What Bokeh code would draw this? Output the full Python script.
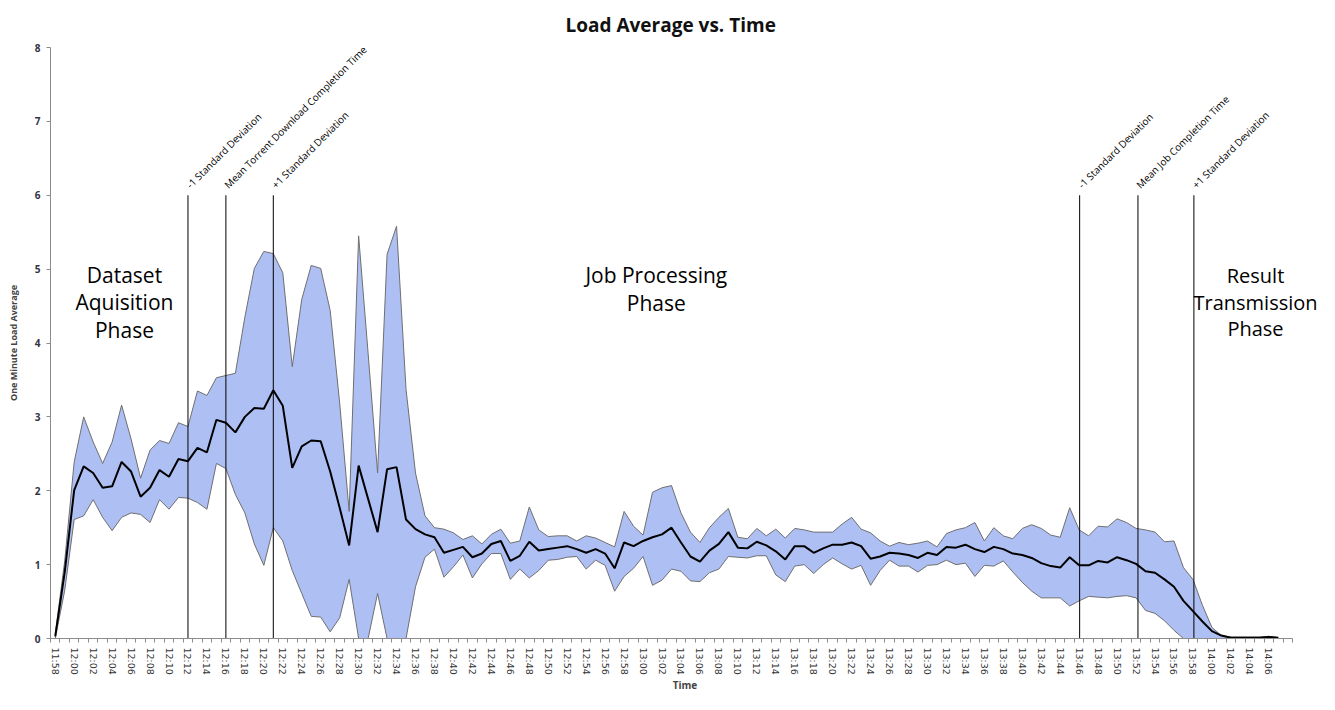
import math
from bokeh.plotting import figure
from bokeh.models import FixedTicker, Range1d, ColumnDataSource, Label
from bokeh.embed import file_html
from bokeh.resources import INLINE

# ---------------- data ----------------
start_minutes = 11 * 60 + 58
n_categories = 131
time_labels = ["%d:%02d" % ((start_minutes + k) // 60, (start_minutes + k) % 60) for k in range(n_categories)]

mean_load = [
    0.03, 0.90, 2.01, 2.33, 2.24, 2.04, 2.06, 2.39, 2.26, 1.92,
    2.04, 2.28, 2.19, 2.43, 2.40, 2.58, 2.52, 2.96, 2.92, 2.79,
    3.00, 3.12, 3.11, 3.36, 3.15, 2.31, 2.60, 2.68, 2.67, 2.26,
    1.77, 1.26, 2.34, 1.89, 1.44, 2.29, 2.32, 1.61, 1.48, 1.41,
    1.37, 1.16, 1.20, 1.24, 1.10, 1.15, 1.28, 1.32, 1.05, 1.12,
    1.31, 1.19, 1.21, 1.23, 1.25, 1.21, 1.16, 1.21, 1.15, 0.95,
    1.30, 1.25, 1.32, 1.37, 1.41, 1.50, 1.30, 1.11, 1.04, 1.19,
    1.28, 1.44, 1.23, 1.22, 1.31, 1.26, 1.18, 1.07, 1.25, 1.25,
    1.16, 1.22, 1.27, 1.27, 1.30, 1.25, 1.08, 1.11, 1.16, 1.15,
    1.13, 1.09, 1.16, 1.13, 1.24, 1.23, 1.27, 1.21, 1.17, 1.24,
    1.21, 1.15, 1.13, 1.09, 1.02, 0.98, 0.96, 1.10, 0.99, 0.99,
    1.05, 1.03, 1.10, 1.06, 1.01, 0.91, 0.89, 0.80, 0.70, 0.51,
    0.37, 0.23, 0.10, 0.04, 0.01, 0.01, 0.01, 0.01, 0.02, 0.01,
]

upper_sd = [
    0.06, 1.05, 2.39, 3.00, 2.66, 2.37, 2.66, 3.16, 2.70, 2.17,
    2.55, 2.68, 2.64, 2.92, 2.87, 3.35, 3.29, 3.53, 3.56, 3.59,
    4.35, 5.01, 5.24, 5.21, 4.95, 3.68, 4.59, 5.05, 5.01, 4.44,
    3.19, 1.72, 5.45, 3.86, 2.24, 5.20, 5.58, 3.37, 2.24, 1.66,
    1.50, 1.48, 1.43, 1.34, 1.39, 1.28, 1.41, 1.48, 1.29, 1.32,
    1.78, 1.47, 1.38, 1.39, 1.39, 1.32, 1.39, 1.36, 1.30, 1.24,
    1.72, 1.52, 1.40, 1.98, 2.04, 2.07, 1.70, 1.44, 1.30, 1.50,
    1.64, 1.76, 1.37, 1.35, 1.49, 1.39, 1.48, 1.36, 1.49, 1.47,
    1.44, 1.44, 1.44, 1.55, 1.64, 1.48, 1.43, 1.32, 1.25, 1.30,
    1.27, 1.29, 1.32, 1.24, 1.42, 1.47, 1.50, 1.57, 1.32, 1.50,
    1.39, 1.35, 1.49, 1.54, 1.49, 1.40, 1.37, 1.77, 1.47, 1.39,
    1.52, 1.51, 1.62, 1.57, 1.49, 1.47, 1.44, 1.31, 1.32, 0.96,
    0.80, 0.45, 0.15, 0.04, 0.02, 0.02, 0.02, 0.02, 0.03, 0.01,
]

lower_sd = [
    0.00, 0.65, 1.61, 1.66, 1.88, 1.64, 1.46, 1.64, 1.70, 1.68,
    1.57, 1.88, 1.75, 1.91, 1.90, 1.84, 1.75, 2.37, 2.30, 1.95,
    1.70, 1.28, 0.99, 1.50, 1.32, 0.92, 0.61, 0.30, 0.29, 0.09,
    0.28, 0.80, 0.00, 0.00, 0.61, 0.00, 0.00, 0.00, 0.70, 1.10,
    1.21, 0.83, 0.97, 1.13, 0.82, 1.01, 1.15, 1.15, 0.80, 0.94,
    0.82, 0.92, 1.06, 1.07, 1.10, 1.11, 0.94, 1.06, 0.99, 0.64,
    0.84, 0.95, 1.11, 0.72, 0.79, 0.94, 0.91, 0.78, 0.77, 0.89,
    0.94, 1.11, 1.10, 1.09, 1.12, 1.12, 0.86, 0.77, 0.98, 1.00,
    0.88, 1.00, 1.09, 1.01, 0.94, 0.99, 0.72, 0.92, 1.06, 0.98,
    0.98, 0.90, 0.99, 1.00, 1.06, 1.00, 1.02, 0.84, 0.99, 0.98,
    1.05, 0.90, 0.76, 0.64, 0.55, 0.55, 0.55, 0.44, 0.51, 0.57,
    0.56, 0.55, 0.57, 0.58, 0.55, 0.38, 0.34, 0.24, 0.11, 0.00,
    0.00, 0.00, 0.00, 0.00, 0.00, 0.00, 0.00, 0.00, 0.00, 0.00,
]

marker_positions = [14.0, 18.0, 23.0, 108.05, 114.2, 120.1]
marker_labels = [
    "-1 Standard Deviation",
    "Mean Torrent Download Completion Time",
    "+1 Standard Deviation",
    "-1 Standard Deviation",
    "Mean Job Completion Time",
    "+1 Standard Deviation",
]
marker_top = 6

phase_labels = ["Dataset\nAquisition\nPhase", "Job Processing\nPhase", "Result\nTransmission\nPhase"]

# ---------------- figure ----------------
x_idx = list(range(len(mean_load)))
frame_left = 50
px_per_cat = (1292 - 50) / n_categories
fig_w = 1319
x_end = -0.5 + (fig_w - frame_left) / px_per_cat

p = figure(
    width=fig_w, height=694,
    x_range=Range1d(-0.5, x_end),
    y_range=Range1d(0, 8),
    output_backend="svg", toolbar_location=None,
    min_border_left=frame_left, min_border_right=0, min_border_top=46, min_border_bottom=50,
)
p.outline_line_color = None
p.xgrid.grid_line_color = None
p.ygrid.grid_line_color = None

p.title.text = "Load Average vs. Time"
p.title.align = "left"
p.title.offset = 515
p.title.text_font = "Open Sans"
p.title.text_font_size = "19px"
p.title.text_font_style = "bold"
p.title.text_color = "#111111"
p.title.standoff = 19

src = ColumnDataSource(dict(x=x_idx, mean=mean_load, up=upper_sd, lo=lower_sd))

p.varea(x="x", y1="lo", y2="up", source=src, fill_color="#AEBFF4", fill_alpha=1.0)
p.line(x="x", y="up", source=src, line_color="#6f6f6f", line_width=1)
p.line(x="x", y="lo", source=src, line_color="#6f6f6f", line_width=1)
p.line(x="x", y="mean", source=src, line_color="#000000", line_width=2)

# vertical marker lines
p.segment(x0=marker_positions, y0=[0] * len(marker_positions),
          x1=marker_positions, y1=[marker_top] * len(marker_positions),
          line_color="#000000", line_width=1)
for xm, lab in zip(marker_positions, marker_labels):
    p.add_layout(Label(x=xm, y=marker_top, text=lab, angle=math.pi / 4,
                       text_align="left", text_baseline="bottom",
                       x_offset=5, y_offset=4,
                       text_font="Open Sans", text_font_size="10px", text_color="#000000"))

# phase labels
phase_x = [7.3, 63.4, 126.6]
phase_y = [4.55, 4.73, 4.55]
phase_sizes = ["21px", "21px", "20px"]
for xp, yp, lab, fs in zip(phase_x, phase_y, phase_labels, phase_sizes):
    p.add_layout(Label(x=xp, y=yp, text=lab, text_align="center", text_baseline="middle",
                       text_line_height=0.98, text_font="Open Sans", text_font_size=fs,
                       text_color="#000000"))

# axes
xa = p.xaxis[0]
xa.bounds = (-0.5, n_categories - 0.5)
xa.ticker = FixedTicker(ticks=list(range(0, 129, 2)),
                        minor_ticks=[k - 0.5 for k in range(n_categories + 1)])
xa.major_label_overrides = {i: time_labels[i] for i in range(0, 129, 2)}
xa.major_label_orientation = "vertical"
xa.major_tick_line_color = None
xa.major_tick_out = 0
xa.major_tick_in = 0
xa.minor_tick_out = 4
xa.minor_tick_in = 0
xa.minor_tick_line_color = "#8c8c8c"
xa.axis_line_color = "#8c8c8c"
xa.major_label_standoff = 5
xa.major_label_text_font = "DejaVu Sans"
xa.major_label_text_font_size = "9.5px"
xa.major_label_text_color = "#333333"
xa.axis_label = "Time"
xa.axis_label_text_font = "Open Sans"
xa.axis_label_text_font_style = "bold"
xa.axis_label_text_font_size = "10px"
xa.axis_label_standoff = 0

ya = p.yaxis[0]
ya.ticker = FixedTicker(ticks=list(range(0, 9)))
ya.major_tick_out = 4
ya.major_tick_in = 0
ya.minor_tick_line_color = None
ya.major_tick_line_color = "#8c8c8c"
ya.axis_line_color = "#8c8c8c"
ya.major_label_text_font = "Open Sans"
ya.major_label_text_font_style = "bold"
ya.major_label_text_font_size = "10px"
ya.major_label_text_color = "#333344"
ya.major_label_standoff = 6
ya.axis_label = "One Minute Load Average"
ya.axis_label_text_font = "Open Sans"
ya.axis_label_text_font_style = "bold"
ya.axis_label_text_font_size = "9px"
ya.axis_label_standoff = 12

open("out.html", "w").write(file_html(p, INLINE))
